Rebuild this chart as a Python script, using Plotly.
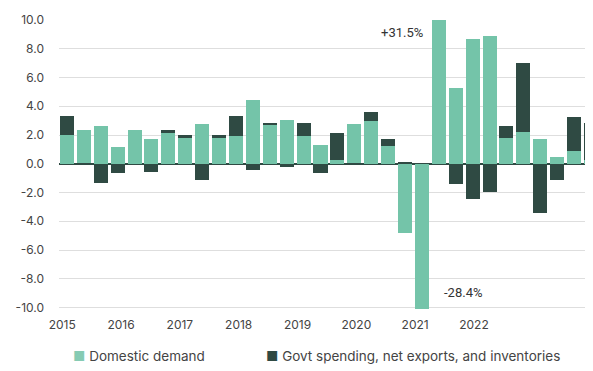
import plotly.graph_objects as go

quarters = [f"{y} Q{q}" for y in range(2015, 2023) for q in range(1, 5)]
domestic_demand = [2.0, 2.37, 2.6, 1.14, 2.37, 1.74, 2.16, 1.86, 2.79, 1.76, 1.92, 4.42,
                   2.7, 3.02, 1.95, 1.33, 0.28, 2.79, 2.96, 1.25, -4.84, -28.4, 31.5, 5.28,
                   8.67, 8.9, 1.77, 2.2, 1.74, 0.47, 0.92, 0.23]
govt_net_inv = [1.3, -0.1, -1.35, -0.65, 0.0, -0.58, 0.21, 0.11, -1.12, 0.27, 1.42, -0.45,
                0.1, -0.23, 0.9, -0.65, 1.88, -0.1, 0.62, 0.5, 0.13, 0.0, 0.0, -1.44,
                -2.44, -1.93, 0.83, 4.78, -3.42, -1.1, 2.31, 2.63]
year_labels = ["2015", "2016", "2017", "2018", "2019", "2020", "2021", "2022"]
y_ticks = [10, 8, 6, 4, 2, 0, -2, -4, -6, -8, -10]

GREEN = "#74c4a9"
DARK = "#2f4a43"

x = list(range(len(quarters)))

fig = go.Figure()
fig.add_bar(x=x, y=domestic_demand, name="Domestic demand", marker_color=GREEN,
            marker_line_width=0, width=0.83, hovertext=quarters, showlegend=False)
fig.add_bar(x=x, y=govt_net_inv, name="Govt spending, net exports, and inventories",
            marker_color=DARK, marker_line_width=0, width=0.83, hovertext=quarters,
            showlegend=False)

tick_pos = [-0.28 + 3.48 * i for i in range(len(year_labels))]

# The page body has an 8px margin, so the figure is 8px smaller than the window.
fig.update_layout(
    width=585, height=363,
    barmode="relative",
    bargap=0,
    plot_bgcolor="white", paper_bgcolor="white",
    margin=dict(l=51, r=0, t=12, b=62),
    font=dict(family="Inter", size=12, color="#444"),
    xaxis=dict(range=[-0.47, 31.12], tickvals=tick_pos, ticktext=year_labels,
               showgrid=False, zeroline=False, showline=False, ticks="",
               ticklabelstandoff=7, tickfont=dict(size=12, color="#444")),
    yaxis=dict(range=[-10.1, 10.0], tickvals=y_ticks,
               ticktext=[f"{v:.1f}" for v in y_ticks],
               showgrid=True, gridcolor="#dedede", gridwidth=1,
               zeroline=True, zerolinecolor=DARK, zerolinewidth=1.5,
               showline=False, ticks="", ticklabelstandoff=14,
               tickfont=dict(size=12, color="#444")),
)

fig.add_annotation(x=19.8, y=9.16, text="+31.5%", showarrow=False,
                   font=dict(family="Roboto", size=13, color="#333"))
fig.add_annotation(x=23.4, y=-8.98, text="-28.4%", showarrow=False,
                   font=dict(family="Roboto", size=13, color="#333"))

fig.add_annotation(xref="paper", yref="paper", x=(71 - 59) / 534, y=-0.163,
                   xanchor="left", yanchor="middle", showarrow=False,
                   text=f"<span style='color:#86cbb3'>■</span> Domestic demand",
                   font=dict(size=13.5, color="#444"))
fig.add_annotation(xref="paper", yref="paper", x=(264 - 59) / 534, y=-0.163,
                   xanchor="left", yanchor="middle", showarrow=False,
                   text=f"<span style='color:{DARK}'>■</span> Govt spending, net exports, and inventories",
                   font=dict(size=13.5, color="#444"))

fig.write_html("out.html")
